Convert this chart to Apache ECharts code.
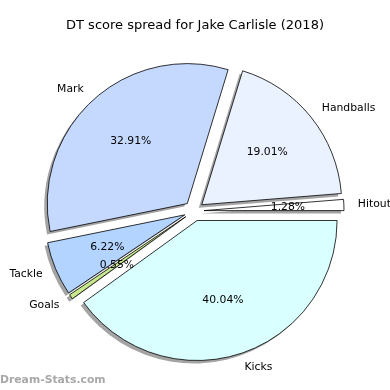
<!DOCTYPE html>
<html><head><meta charset="utf-8">
<script src="https://cdn.jsdelivr.net/npm/echarts@6/dist/echarts.min.js"></script>
<style>html,body{margin:0;padding:0;background:#fff}#c{width:390px;height:390px}</style>
</head><body><div id="c"></div>
<script>
const titleText = 'DT score spread for Jake Carlisle (2018)';
const watermarkText = 'Dream-Stats.com';
const categories = ['Hitouts', 'Handballs', 'Mark', 'Tackle', 'Goals', 'Kicks'];
const percents = [1.28, 19.01, 32.91, 6.22, 0.55, 40.04];
const sliceColors = ['#ffffff', '#eaf1ff', '#c5d9ff', '#b3d4ff', '#c8e88c', '#d9ffff'];

const FONT = 'DejaVu Sans';
const center = [194, 211];
const shadowCenter = [191, 214];
const R = 140;
const explode = 10;

const sliceData = categories.map((name, i) => ({
  name: name, value: percents[i], selected: true,
  itemStyle: { color: sliceColors[i] }
}));
const plainData = categories.map((name, i) => ({
  name: name, value: percents[i], selected: true
}));

const mainItem = { borderColor: '#000', borderWidth: 0.8 };
const shadowItem = { color: '#a4a4a4', borderWidth: 0 };
const clearItem = { color: 'rgba(0,0,0,0)', borderWidth: 0 };

function pieBase() {
  return {
    type: 'pie',
    startAngle: 0,
    clockwise: false,
    avoidLabelOverlap: false,
    selectedMode: 'multiple',
    selectedOffset: explode,
    emphasis: { disabled: true }
  };
}

const chart = echarts.init(document.getElementById('c'), null, { renderer: 'canvas' });
chart.setOption({
  animation: false,
  backgroundColor: '#fff',
  title: [
    { text: titleText, left: 'center', top: 19, padding: 0,
      textStyle: { fontFamily: FONT, fontSize: 13, fontWeight: 'normal', color: '#000' } },
    { text: watermarkText, left: 0, top: 375, padding: 0,
      textStyle: { fontFamily: FONT, fontSize: 10.8, fontWeight: 'bold', color: '#a8a8a8' } }
  ],
  series: [
    Object.assign(pieBase(), {
      center: shadowCenter, radius: R, silent: true, z: 1,
      itemStyle: shadowItem, select: { itemStyle: shadowItem },
      label: { show: false }, labelLine: { show: false },
      data: plainData
    }),
    Object.assign(pieBase(), {
      center: center, radius: R, z: 2,
      itemStyle: mainItem, select: { itemStyle: mainItem },
      label: {
        show: true, position: 'outside', distanceToLabelLine: 0,
        formatter: '{b}', fontFamily: FONT, fontSize: 10.8, color: '#000'
      },
      labelLine: { show: false, length: 14, length2: 0 },
      data: sliceData
    }),
    Object.assign(pieBase(), {
      center: center, radius: [22, R], silent: true, z: 3,
      itemStyle: clearItem, select: { itemStyle: clearItem },
      label: {
        show: true, position: 'inside',
        formatter: '{c}%', fontFamily: FONT, fontSize: 10.8, color: '#000'
      },
      labelLine: { show: false },
      data: plainData
    })
  ]
});
</script>
</body></html>
